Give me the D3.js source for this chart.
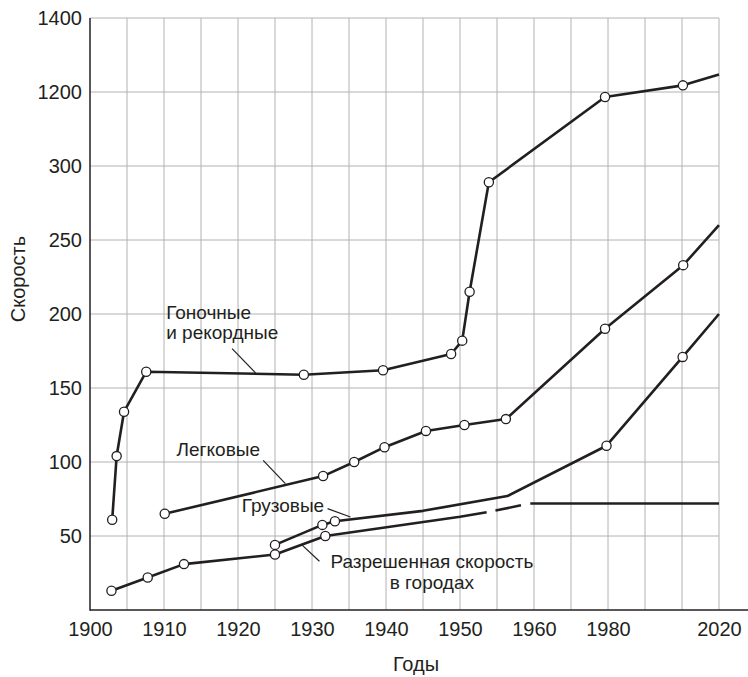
<!DOCTYPE html>
<html>
<head>
<meta charset="utf-8">
<script src="https://cdn.jsdelivr.net/npm/d3@7"></script>
<style>
    body { margin: 0; background: #fff; }
    svg text { font-family: "Liberation Sans", Arial, sans-serif; fill: #231f20; }
</style>
</head>
<body>
<svg id="drawing_region"></svg>
<script>
// данные
const racingYears = [1903.0, 1903.6, 1904.6, 1907.6, 1928.9, 1939.6, 1948.8, 1950.3, 1951.3, 1953.9, 1979.2, 2007.0, 2020];
const racingSpeed = [61, 104, 134, 161, 159, 162, 173, 182, 215, 289, 1139, 1218, 1247];
const racingMarks = [1, 1, 1, 1, 1, 1, 1, 1, 1, 1, 1, 1, 0];

const carYears = [1910.1, 1931.5, 1935.7, 1939.8, 1945.4, 1950.6, 1956.2, 1979.2, 2007.1, 2020];
const carSpeed = [65, 90.5, 100, 110, 121, 125, 129, 190, 233, 260];
const carMarks = [1, 1, 1, 1, 1, 1, 1, 1, 1, 0];

const truckYears = [1925.0, 1931.4, 1933.1, 1945.0, 1956.4, 1979.6, 2006.9, 2020];
const truckSpeed = [44, 57.5, 60, 67, 77, 111, 171, 200];
const truckMarks = [1, 1, 1, 0, 0, 1, 1, 0];

const cityYears = [1902.9, 1907.8, 1912.7, 1925.0, 1931.8, 1950.0, 1953.6, 1959.5, 2020];
const citySpeed = [13, 22, 31, 37.5, 50, 63, 66, 72, 72];
const cityMarks = [1, 1, 1, 1, 1, 0, 0, 0, 0];
const cityDashed = [1953.6, 1959.5];   // участок пунктиром

const xTicks = [1900, 1910, 1920, 1930, 1940, 1950, 1960, 1980, 2020];
const yTicks = [50, 100, 150, 200, 250, 300, 1200, 1400];

// подписи и выноски (в координатах год / скорость)
const labels = [
    { lines: ['Гоночные', 'и рекордные'], year: 1910.3, speed: 196.9, anchor: 'start', leader: [1919.2, 176.6, 1922.4, 160.1] },
    { lines: ['Легковые'], year: 1911.7, speed: 103.9, anchor: 'start', leader: [1923.4, 101.1, 1926.4, 85.4] },
    { lines: ['Грузовые'], year: 1920.5, speed: 66.2, anchor: 'start', leader: [1932.1, 68.5, 1935.2, 62.8] },
    { lines: ['Разрешенная скорость', 'в городах'], year: 1946.2, speed: 28.2, anchor: 'middle', leader: [1928.6, 44.2, 1931.0, 32.9] },
];

const zip = (xs, ys, ms) => xs.map((d, i) => ({ year: d, speed: ys[i], mark: ms ? ms[i] : 0 }));

const W = 748, H = 677;
const mLeft = 90, mTop = 18, cell = 37, cols = 17, rows = 8;
const mRight = mLeft + cols * cell;
const mBottom = mTop + rows * 74;

const svg = d3.select('#drawing_region')
    .attr('width', W)
    .attr('height', H);

// шкала по X с разрывами (1960-1980 и 1980-2020 сжаты)
const x = d3.scaleLinear()
    .domain([1900, 1960, 1980, 2020])
    .range([mLeft, mLeft + 12 * cell, mLeft + 14 * cell, mRight]);

// шкала по Y с разрывами
const y = d3.scaleLinear()
    .domain([0, 300, 1200, 1400])
    .range([mBottom, mBottom - 6 * 74, mBottom - 7 * 74, mTop]);

// сетка
const grid = svg.append('g').attr('stroke', '#b2b2b4').attr('stroke-width', 1);
grid.selectAll('line.v').data(d3.range(1, cols + 1)).enter()
    .append('line')
    .attr('x1', i => mLeft + i * cell).attr('x2', i => mLeft + i * cell)
    .attr('y1', mTop).attr('y2', mBottom);
grid.selectAll('line.h').data(yTicks).enter()
    .append('line')
    .attr('x1', mLeft).attr('x2', mRight)
    .attr('y1', d => y(d)).attr('y2', d => y(d));

// оси
const yAxis = d3.axisLeft(y).tickValues(yTicks).tickSize(0).tickPadding(8).tickFormat(d3.format('d'));
svg.append('g').attr('transform', `translate(${mLeft},0)`).call(yAxis)
    .call(g => g.select('.domain').remove())
    .selectAll('text').style('font-size', '20px').attr('fill', '#231f20');

const xAxis = d3.axisBottom(x).tickValues(xTicks).tickSize(0).tickPadding(12).tickFormat(d3.format('d'));
svg.append('g').attr('transform', `translate(0,${mBottom})`).call(xAxis)
    .call(g => g.select('.domain').remove())
    .selectAll('text').style('font-size', '20px').attr('fill', '#231f20');

svg.append('line').attr('x1', mLeft).attr('x2', mLeft).attr('y1', mTop).attr('y2', mBottom + 0.75)
    .attr('stroke', '#231f20').attr('stroke-width', 1.5);
svg.append('line').attr('x1', mLeft).attr('x2', W).attr('y1', mBottom).attr('y2', mBottom)
    .attr('stroke', '#231f20').attr('stroke-width', 1.5);

svg.append('text').attr('x', 416).attr('y', 671).attr('text-anchor', 'middle')
    .style('font-size', '20px').text('Годы');
svg.append('text').attr('transform', 'translate(25,279) rotate(-90)').attr('text-anchor', 'middle')
    .style('font-size', '20px').text('Скорость');

// линии
const line = d3.line().x(d => x(d.year)).y(d => y(d.speed));

const drawPath = (pts, dash) => svg.append('path')
    .datum(pts)
    .attr('d', line)
    .attr('fill', 'none')
    .attr('stroke', '#231f20')
    .attr('stroke-width', 2.6)
    .attr('stroke-linejoin', 'round')
    .attr('stroke-dasharray', dash || null);

const racing = zip(racingYears, racingSpeed, racingMarks);
const cars = zip(carYears, carSpeed, carMarks);
const trucks = zip(truckYears, truckSpeed, truckMarks);
const city = zip(cityYears, citySpeed, cityMarks);

drawPath(racing);
drawPath(cars);
drawPath(trucks);
drawPath(city.filter(d => d.year <= cityDashed[0]));
drawPath(city.filter(d => d.year >= cityDashed[0] && d.year <= cityDashed[1]), '0,9,26,100');
drawPath(city.filter(d => d.year >= cityDashed[1]));

// выноски и подписи
labels.forEach(l => {
    svg.append('line')
        .attr('x1', x(l.leader[0])).attr('y1', y(l.leader[1]))
        .attr('x2', x(l.leader[2])).attr('y2', y(l.leader[3]))
        .attr('stroke', '#231f20').attr('stroke-width', 1.2);
    const t = svg.append('text')
        .attr('x', x(l.year)).attr('y', y(l.speed))
        .attr('text-anchor', l.anchor)
        .style('font-size', '19px');
    l.lines.forEach((s, i) => {
        t.append('tspan').attr('x', x(l.year)).attr('dy', i === 0 ? 0 : 20.5).text(s);
    });
});

// маркеры
const marks = [].concat(racing, cars, trucks, city).filter(d => d.mark);
svg.selectAll('circle.pt').data(marks).enter()
    .append('circle')
    .attr('cx', d => x(d.year))
    .attr('cy', d => y(d.speed))
    .attr('r', 4.6)
    .attr('fill', '#fff')
    .attr('stroke', '#231f20')
    .attr('stroke-width', 1.3);
</script>
</body>
</html>
